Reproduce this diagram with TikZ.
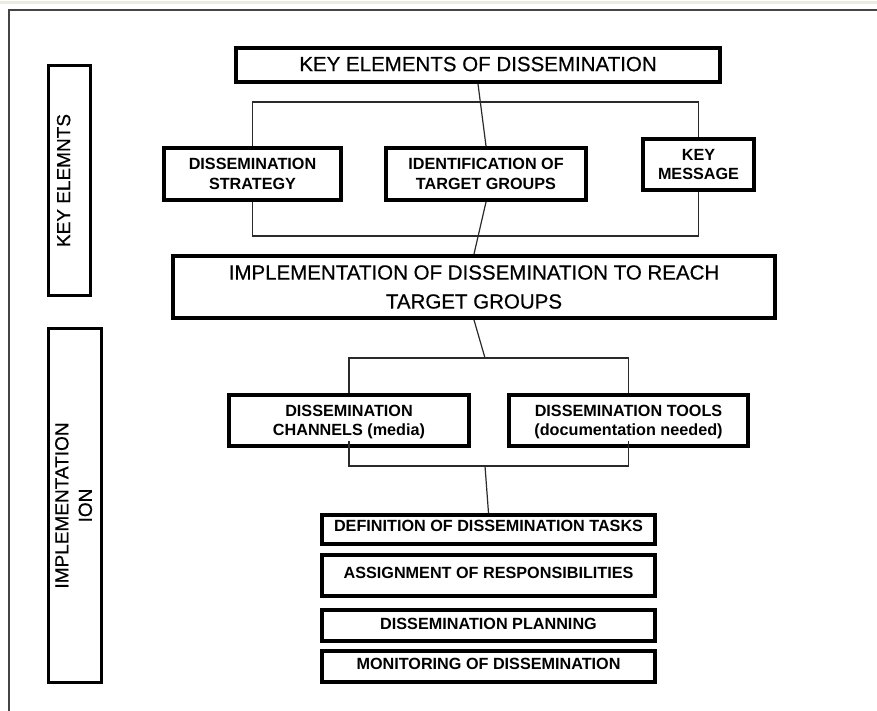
\documentclass[tikz,border=0pt]{standalone}
\usepackage{fontspec}
\setmainfont{Liberation Sans}
\newfontfamily\plainheavy{Liberation Sans}[FakeBold=0.5]
\usetikzlibrary{backgrounds}
\definecolor{bandbeige}{HTML}{ECEBE0}
\definecolor{framegray}{HTML}{454545}
\definecolor{linkgray}{HTML}{2A2A2A}
\begin{document}
\begin{tikzpicture}[x=1pt,y=-1pt,
  mainbox/.style={draw=black, line width=3.6pt, fill=white, inner sep=0pt, align=center, text=black},
  sidebox/.style={draw=black, line width=2.8pt, fill=white, inner sep=0pt, align=center, text=black, rotate=90},
  link/.style={draw=linkgray, line width=1.2pt},
  bigfont/.style={font=\plainheavy\fontsize{20.5}{29}\selectfont},
  boldfont/.style={font=\fontsize{16.2}{19.5}\selectfont\bfseries},
  sidefont/.style={font=\plainheavy\fontsize{19}{23.5}\selectfont},
]
\useasboundingbox (0,0) rectangle (877,711);

% top row
\node[mainbox, bigfont, minimum width=484.4pt, minimum height=34.4pt, text depth=2pt] (top) at (478,65) {KEY ELEMENTS OF DISSEMINATION};
\node[mainbox, boldfont, minimum width=177.4pt, minimum height=52.4pt] (strat) at (252.5,174) {DISSEMINATION\\STRATEGY};
\node[mainbox, boldfont, minimum width=200.4pt, minimum height=52.4pt] (ident) at (486,174) {IDENTIFICATION OF\\TARGET GROUPS};
\node[mainbox, boldfont, minimum width=111.4pt, minimum height=51.4pt] (keymsg) at (698.5,164.5) {KEY\\MESSAGE};

% implementation
\node[mainbox, bigfont, minimum width=602.4pt, minimum height=62.4pt] (impl) at (474,287) {IMPLEMENTATION OF DISSEMINATION TO REACH\\TARGET GROUPS};
\node[mainbox, boldfont, minimum width=240.4pt, minimum height=51.4pt, text depth=-3pt] (chan) at (349,420.5) {DISSEMINATION\\CHANNELS (media)};
\node[mainbox, boldfont, minimum width=239.4pt, minimum height=51.4pt, text depth=-3pt] (tools) at (628.5,420.5) {DISSEMINATION TOOLS\\(documentation needed)};

% task list
\node[mainbox, boldfont, minimum width=333.4pt, minimum height=29.4pt, text depth=7pt] (task1) at (488.5,529.5) {DEFINITION OF DISSEMINATION TASKS};
\node[mainbox, boldfont, minimum width=333.4pt, minimum height=41.4pt, text depth=5pt] (task2) at (488.5,575.5) {ASSIGNMENT OF RESPONSIBILITIES};
\node[mainbox, boldfont, minimum width=333.4pt, minimum height=31.4pt, text depth=4pt] (task3) at (488.5,625.5) {DISSEMINATION PLANNING};
\node[mainbox, boldfont, minimum width=333.4pt, minimum height=31.4pt, text depth=6pt] (task4) at (488.5,666.5) {MONITORING OF DISSEMINATION};

% side captions
\node[sidebox, sidefont, minimum width=230.2pt, minimum height=42.2pt, text depth=12pt] (side1) at (69.5,180.5) {KEY ELEMNTS};
\node[sidebox, sidefont, minimum width=354.2pt, minimum height=53.2pt, text depth=3pt] (side2) at (75,505.5) {IMPLEMENTATION\\ION};

% bracket levels
\coordinate (b1top) at (0,102);
\coordinate (b1bot) at (0,236);
\coordinate (b2top) at (485,358);
\coordinate (b2bot) at (485,466);

\begin{scope}[on background layer]
  \fill[white] (0,0) rectangle (877,711);
  \fill[bandbeige] (0,1.5) rectangle (877,4.5);
  \draw[framegray, line width=2pt] (9,711) -- (9,9.7) -- (877,9.7);
  \draw[link] (strat.center |- b1top) rectangle (keymsg.center |- b1bot);
  \draw[link] (chan.center |- b2top) rectangle (tools.center |- b2bot);
  \draw[link] (top.south) -- (ident.north);
  \draw[link] (ident.south) -- (impl.north);
  \draw[link] (impl.south) -- (b2top);
  \draw[link] (b2bot) -- (task1.north);
\end{scope}

% bracket stubs showing inside the lower edge of the channel boxes
\draw[link] ([yshift=7pt]chan.south) -- (chan.south);
\draw[link] ([yshift=7pt]tools.south) -- (tools.south);
\end{tikzpicture}
\end{document}
